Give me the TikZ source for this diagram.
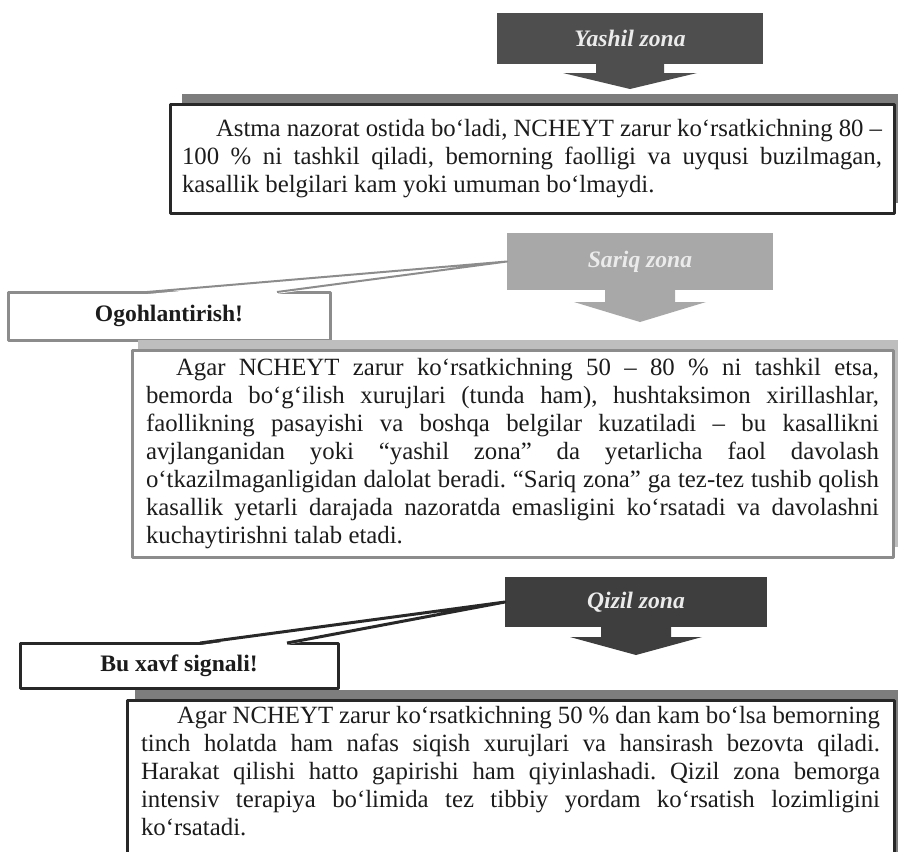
\documentclass[tikz,border=0pt]{standalone}
\usepackage{fontspec}
\setmainfont{Liberation Serif}
\usepackage{tikz}
\usetikzlibrary{calc, shadows}
\definecolor{zoneGreen}{RGB}{78, 78, 78}
\definecolor{zoneYellow}{RGB}{168, 168, 168}
\definecolor{zoneRed}{RGB}{62, 62, 62}
\definecolor{frameDark}{RGB}{40, 40, 40}
\definecolor{frameGray}{RGB}{140, 140, 140}
\definecolor{bandDark}{RGB}{125, 125, 125}
\definecolor{bandLight}{RGB}{190, 190, 190}
\definecolor{inkText}{RGB}{28, 28, 28}
\newcommand{\bodysize}{\fontsize{12.4pt}{14pt}\selectfont}
\newcommand{\labelsize}{\fontsize{11.8pt}{14pt}\selectfont}
\tolerance=10000
\hbadness=10000
\frenchspacing

\begin{document}
\begin{tikzpicture}[x=0.5pt, y=-0.5pt, line join=round,
  zone/.style={rectangle, minimum width=133pt, inner sep=0pt, outer sep=0pt,
    text=white!92!black, font=\labelsize\bfseries\itshape},
  textbox/.style={rectangle, anchor=north west, outer sep=0pt, inner xsep=7pt,
    inner ysep=3pt, fill=white, align=justify, text=inkText, font=\bodysize,
    line width=1.5pt},
  notebox/.style={rectangle, anchor=north west, outer sep=0pt, fill=white,
    line width=1.5pt, text=inkText, font=\labelsize\bfseries},
  wedge/.style={line width=1pt}]
  \useasboundingbox (0,0) rectangle (898,851);
  \clip (0,0) rectangle (898,851);
  \fill[white] (0,0) rectangle (898,851);

  % Yashil zona
  \node[zone, fill=zoneGreen, minimum height=25.5pt] (yashil) at (630,38.5) {Yashil zona};
  \fill[zoneGreen] ($(yashil.south)+(-34,0)$) -- ++(0,9) -- ++(-33,0) -- ++(67,16)
    -- ++(67,-16) -- ++(-33,0) -- ++(0,-9) -- cycle;

  \node[textbox, draw=frameDark, text width=350pt, inner xsep=6pt, minimum height=54.5pt,
    drop shadow={shadow xshift=6pt, shadow yshift=5pt, fill=bandDark, opacity=1}]
    (green) at (170,104) {\hspace*{17pt}Astma nazorat ostida bo‘ladi, NCHEYT zarur ko‘rsatkichning 80 –\linebreak
    100 \% ni tashkil qiladi, bemorning faolligi va uyqusi buzilmagan,\linebreak
    kasallik belgilari kam yoki umuman bo‘lmaydi.};

  % Sariq zona
  \node[zone, fill=zoneYellow, minimum height=28.5pt] (sariq) at (640,261.5) {Sariq zona};
  \fill[zoneYellow] ($(sariq.south)+(-35,0)$) -- ++(0,12) -- ++(-31,0) -- ++(66,20)
    -- ++(66,-20) -- ++(-31,0) -- ++(0,-12) -- cycle;

  \node[notebox, draw=frameGray, minimum width=161pt, minimum height=24pt]
    (ogoh) at (8,292) {Ogohlantirish!};
  \coordinate (ogohA) at ($(ogoh.north west)+(139,0)$);
  \coordinate (ogohB) at ($(ogoh.north west)+(269,0)$);
  \fill[white] ($(ogohA)+(1,2)$) -- (sariq.west) -- ($(ogohB)+(-1,2)$) -- cycle;
  \draw[wedge, frameGray] (ogohA) -- (sariq.west) -- (ogohB);

  \node[textbox, draw=frameGray, text width=366.5pt, minimum height=103.5pt,
    drop shadow={shadow xshift=3pt, shadow yshift=5pt, fill=bandLight, opacity=1}]
    (yellow) at (132,350) {\hspace*{15pt}Agar NCHEYT zarur ko‘rsatkichning 50 – 80 \% ni tashkil etsa,\linebreak
    bemorda bo‘g‘ilish xurujlari (tunda ham), hushtaksimon xirillashlar,\linebreak
    faollikning pasayishi va boshqa belgilar kuzatiladi – bu kasallikni\linebreak
    avjlanganidan yoki “yashil zona” da yetarlicha faol davolash\linebreak
    o‘tkazilmaganligidan dalolat beradi. “Sariq zona” ga tez-tez tushib qolish\linebreak
    kasallik yetarli darajada nazoratda emasligini ko‘rsatadi va davolashni\linebreak
    kuchaytirishni talab etadi.};

  % Qizil zona
  \node[zone, fill=zoneRed, minimum width=131pt, minimum height=25pt] (qizil) at (636,602) {Qizil zona};
  \fill[zoneRed] ($(qizil.south)+(-35,0)$) -- ++(0,10) -- ++(-31,0) -- ++(66,18)
    -- ++(66,-18) -- ++(-31,0) -- ++(0,-10) -- cycle;

  \node[notebox, draw=frameDark, minimum width=159pt, minimum height=22.5pt]
    (xavf) at (20,643) {Bu xavf signali!};
  \coordinate (xavfA) at ($(xavf.north west)+(180,0)$);
  \coordinate (xavfB) at ($(xavf.north west)+(267,0)$);
  \fill[white] ($(xavfA)+(1,2)$) -- (qizil.west) -- ($(xavfB)+(-1,2)$) -- cycle;
  \draw[wedge, frameDark, line width=1.5pt] (xavfA) -- (qizil.west) -- (xavfB);

  \node[textbox, draw=frameDark, text width=369.5pt,
    drop shadow={shadow xshift=4pt, shadow yshift=5pt, fill=bandDark, opacity=1}]
    (red) at (127,700) {\hspace*{18pt}Agar NCHEYT zarur ko‘rsatkichning 50 \% dan kam bo‘lsa bemorning\linebreak
    tinch holatda ham nafas siqish xurujlari va hansirash bezovta qiladi.\linebreak
    Harakat qilishi hatto gapirishi ham qiyinlashadi. Qizil zona bemorga\linebreak
    intensiv terapiya bo‘limida tez tibbiy yordam ko‘rsatish lozimligini\linebreak
    ko‘rsatadi.\par\vspace*{22pt}};
\end{tikzpicture}
\end{document}
